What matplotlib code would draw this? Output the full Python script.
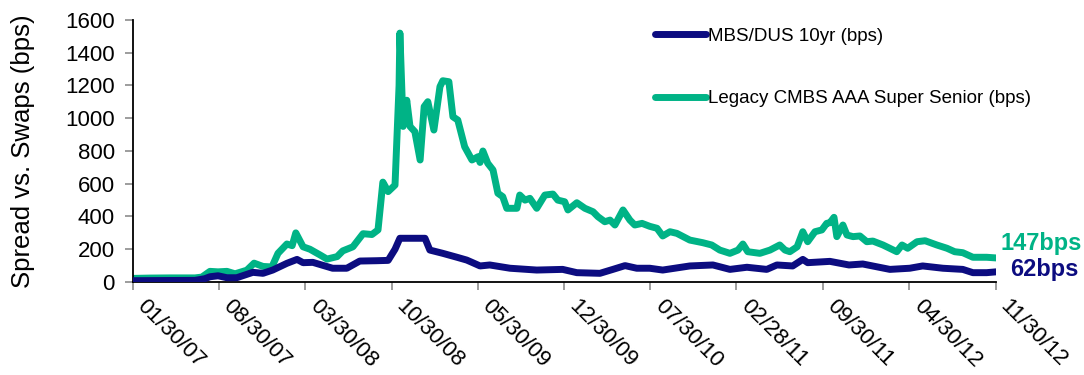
import matplotlib
matplotlib.use("Agg")
import matplotlib.pyplot as plt
import pandas as pd

plt.rcParams["font.family"] = ["Liberation Sans", "DejaVu Sans"]

# MBS/DUS 10yr spread vs. swaps (bps)
mbs_dates = [
    "2007-01-30", "2007-07-02", "2007-07-26", "2007-08-08", "2007-08-28", "2007-09-19",
    "2007-10-13", "2007-11-22", "2007-12-17", "2008-01-10", "2008-02-14", "2008-03-10",
    "2008-03-25", "2008-04-18", "2008-06-06", "2008-07-11", "2008-08-12", "2008-09-23",
    "2008-10-21", "2008-11-07", "2008-11-19", "2008-12-21", "2009-01-20", "2009-02-01",
    "2009-03-05", "2009-04-09", "2009-05-03", "2009-05-16", "2009-06-05", "2009-06-29",
    "2009-08-18", "2009-10-23", "2009-12-26", "2010-01-30", "2010-03-28", "2010-04-29",
    "2010-05-29", "2010-06-27", "2010-07-29", "2010-08-30", "2010-11-05", "2011-01-01",
    "2011-02-12", "2011-03-26", "2011-05-14", "2011-06-08", "2011-07-17", "2011-08-11",
    "2011-08-23", "2011-10-17", "2011-12-03", "2012-01-06", "2012-03-13", "2012-05-01",
    "2012-06-02", "2012-07-22", "2012-09-09", "2012-10-04", "2012-11-07", "2012-11-30",
]
mbs_values = [
    8, 10, 20, 32, 38, 26,
    26, 59, 53, 73, 114, 138,
    118, 120, 84, 84, 128, 130,
    132, 200, 267, 267, 267, 195,
    175, 151, 134, 120, 98, 104,
    84, 73, 77, 57, 53, 77,
    100, 84, 84, 73, 98, 104,
    77, 90, 77, 104, 98, 138,
    118, 126, 104, 110, 77, 84,
    98, 84, 77, 57, 57, 62,
]

# Legacy CMBS AAA super senior spread vs. swaps (bps)
cmbs_dates = [
    "2007-01-30", "2007-03-13", "2007-05-01", "2007-07-02", "2007-07-19", "2007-08-08",
    "2007-08-28", "2007-09-19", "2007-10-09", "2007-11-07", "2007-11-25", "2007-12-17",
    "2008-01-08", "2008-01-23", "2008-02-14", "2008-02-27", "2008-03-07", "2008-03-25",
    "2008-04-11", "2008-05-06", "2008-05-23", "2008-06-17", "2008-07-01", "2008-07-26",
    "2008-08-20", "2008-09-11", "2008-09-26", "2008-10-08", "2008-10-21", "2008-11-07",
    "2008-11-17", "2008-11-19", "2008-11-27", "2008-12-06", "2008-12-14", "2008-12-26",
    "2009-01-08", "2009-01-18", "2009-01-27", "2009-02-11", "2009-02-26", "2009-03-05",
    "2009-03-20", "2009-03-30", "2009-04-11", "2009-04-28", "2009-05-16", "2009-05-31",
    "2009-06-05", "2009-06-12", "2009-06-24", "2009-07-07", "2009-07-19", "2009-07-31",
    "2009-08-10", "2009-09-04", "2009-09-11", "2009-09-24", "2009-10-06", "2009-10-23",
    "2009-11-12", "2009-12-02", "2009-12-14", "2009-12-31", "2010-01-08", "2010-01-30",
    "2010-02-19", "2010-03-11", "2010-03-23", "2010-04-09", "2010-04-22", "2010-05-04",
    "2010-05-24", "2010-06-10", "2010-06-22", "2010-07-10", "2010-07-29", "2010-08-16",
    "2010-08-30", "2010-09-17", "2010-10-04", "2010-11-05", "2010-12-07", "2010-12-29",
    "2011-01-18", "2011-02-12", "2011-03-04", "2011-03-16", "2011-03-28", "2011-04-27",
    "2011-05-22", "2011-06-15", "2011-06-28", "2011-07-10", "2011-07-28", "2011-08-11",
    "2011-08-23", "2011-09-10", "2011-09-27", "2011-10-09", "2011-10-17", "2011-10-27",
    "2011-11-03", "2011-11-18", "2011-11-28", "2011-12-13", "2011-12-30", "2012-01-16",
    "2012-01-31", "2012-02-25", "2012-03-30", "2012-04-12", "2012-04-26", "2012-05-19",
    "2012-06-08", "2012-07-07", "2012-08-01", "2012-08-20", "2012-09-09", "2012-10-04",
    "2012-11-07", "2012-11-30",
]
cmbs_values = [
    22, 24, 25, 25, 30, 65,
    62, 65, 50, 72, 115, 95,
    92, 175, 232, 222, 300, 215,
    200, 165, 140, 155, 190, 215,
    295, 290, 318, 610, 552, 592,
    1200, 1520, 950, 1110, 950, 918,
    745, 1071, 1101, 928, 1193, 1229,
    1223, 1009, 989, 826, 745, 765,
    730, 800, 725, 684, 542, 521,
    450, 450, 531, 500, 511, 450,
    531, 537, 500, 490, 440, 484,
    450, 429, 399, 368, 378, 348,
    440, 378, 348, 358, 340, 328,
    281, 307, 297, 256, 240, 226,
    195, 175, 195, 232, 185, 175,
    195, 226, 195, 185, 215, 307,
    246, 307, 318, 358, 362, 395,
    277, 348, 287, 277, 281, 246,
    250, 226, 185, 226, 206, 246,
    252, 226, 206, 185, 179, 151,
    151, 147,
]

tick_dates = [
    "2007-01-30", "2007-08-30", "2008-03-30", "2008-10-30", "2009-05-30", "2009-12-30",
    "2010-07-30", "2011-02-28", "2011-09-30", "2012-04-30", "2012-11-30",
]
tick_labels = [
    "01/30/07", "08/30/07", "03/30/08", "10/30/08", "05/30/09", "12/30/09",
    "07/30/10", "02/28/11", "09/30/11", "04/30/12", "11/30/12",
]
y_ticks = [0, 200, 400, 600, 800, 1000, 1200, 1400, 1600]

navy = "#0c0c80"
teal = "#00b386"

fig = plt.figure(figsize=(10.84, 3.75), dpi=100)
ax = fig.add_axes([0.1227, 0.248, 0.7961, 0.6987])

ax.plot(pd.to_datetime(mbs_dates), mbs_values, color=navy, lw=5,
        solid_joinstyle="round", solid_capstyle="round", label="MBS/DUS 10yr (bps)", zorder=3)
ax.plot(pd.to_datetime(cmbs_dates), cmbs_values, color=teal, lw=5,
        solid_joinstyle="round", solid_capstyle="round",
        label="Legacy CMBS AAA Super Senior (bps)", zorder=2)

ax.set_xlim(pd.Timestamp(tick_dates[0]), pd.Timestamp(tick_dates[-1]))
ax.set_ylim(0, 1600)

ax.set_xticks(pd.to_datetime(tick_dates))
# slanted date labels: the rotated box starts right at each tick
ax.set_xticklabels(tick_labels, rotation=-45, ha="left", va="top",
                   rotation_mode="default", fontsize=16)

ax.set_yticks(y_ticks)
ax.set_yticklabels([str(v) for v in y_ticks], fontsize=16)
ax.tick_params(axis="both", direction="out", length=6, width=1.2, color="#8c8c8c")
ax.tick_params(axis="y", pad=7)
ax.tick_params(axis="x", pad=4)

for side in ("top", "right"):
    ax.spines[side].set_visible(False)
for side in ("left", "bottom"):
    ax.spines[side].set_color("black")
    ax.spines[side].set_linewidth(1.3)

ax.set_ylabel("Spread vs. Swaps (bps)", fontsize=18.5, labelpad=22)

leg = ax.legend(loc="upper left", bbox_to_anchor=(0.605, 0.97), frameon=False,
                fontsize=13.5, handlelength=2.7, handletextpad=0.1,
                labelspacing=2.4, borderpad=0, borderaxespad=0)

# closing levels written at the right end of each line
ax.annotate(f"{cmbs_values[-1]}bps", xy=(pd.Timestamp(cmbs_dates[-1]), cmbs_values[-1]),
            xytext=(3, 10.5), textcoords="offset points", color=teal,
            fontsize=17, fontweight="bold", ha="left", va="center",
            annotation_clip=False)
ax.annotate(f"{mbs_values[-1]}bps", xy=(pd.Timestamp(mbs_dates[-1]), mbs_values[-1]),
            xytext=(10, 2), textcoords="offset points", color=navy,
            fontsize=17, fontweight="bold", ha="left", va="center",
            annotation_clip=False)

fig.savefig("out.png", dpi=100)
